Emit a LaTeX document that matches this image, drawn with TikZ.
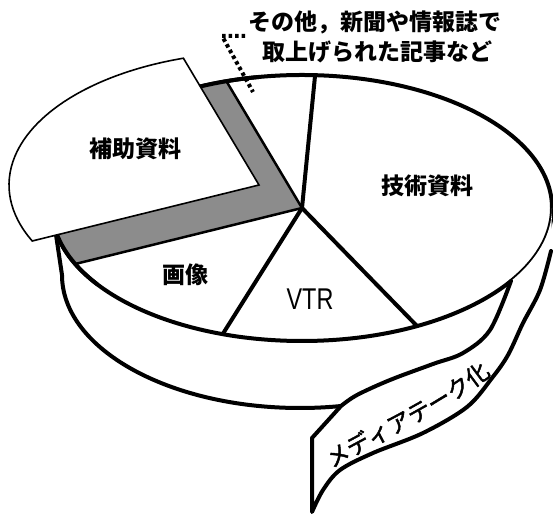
\documentclass[tikz,border=0pt]{standalone}
\usepackage{fontspec}
\setmainfont{Liberation Sans}
\newfontfamily\jp{Noto Sans CJK JP}
\newfontfamily\jpm{Noto Sans CJK JP}[FakeBold=2]
\usetikzlibrary{calc,decorations.text}
\begin{document}
\begin{tikzpicture}[x=1pt,y=1pt,
  edge/.style={line width=4pt, line join=round, line cap=round},
  thinedge/.style={line width=1.6pt, line join=miter},
  graybox/.style={fill=black!45},
  lab/.style={font=\jp\bfseries\fontsize{23}{23}\selectfont, inner sep=0pt},
  dotline/.style={line width=4pt, dash pattern=on 3.5pt off 3pt}]
\useasboundingbox (0,0) rectangle (553,513);
\coordinate (C) at (302,305);
\coordinate (B) at (300,238);
\coordinate (W) at (259,328);
% side wall
\path[fill=white] (52,305) -- (62,238) arc[start angle=180,end angle=360,x radius=238pt,y radius=133pt] -- (552,305) arc[start angle=0,end angle=-180,x radius=250pt,y radius=133pt] -- cycle;
\draw[edge] (52,305) -- (62,238) arc[start angle=180,end angle=360,x radius=238pt,y radius=133pt] -- (552,305);
% top face
\draw[edge, fill=white] (C) ellipse[x radius=250pt, y radius=133pt];
% hole (gray)
\coordinate (h1) at ($(C)+(107.6:250pt and 133pt)$);
\coordinate (h2) at ($(C)+(204.9:250pt and 133pt)$);
\fill[graybox] (C) -- (h1) arc[start angle=107.6,end angle=204.9,x radius=250pt,y radius=133pt] -- cycle;
\draw[line width=2.5pt, line join=round] (h1) -- (C) -- (h2);
\coordinate (h0) at ($(C)+(100:250pt and 133pt)$);
\draw[edge] (h0) arc[start angle=100,end angle=215,x radius=250pt,y radius=133pt];
% slice lines
\coordinate (s1) at ($(C)+(87:250pt and 133pt)$);
\coordinate (s2) at ($(C)+(297.4:250pt and 133pt)$);
\coordinate (s3) at ($(C)+(251.5:250pt and 133pt)$);
\draw[edge] (C) -- (s1);
\draw[edge] (C) -- (s2);
\draw[edge] (C) -- (s3);
% labels on pie
\node[lab] (gijutsu) at (427,327) {技術資料};
\node[lab] (gazou) at (185,238) {画像};
\node[font=\fontsize{30}{30}\selectfont, inner sep=0pt, xscale=0.78] (vtr) at (310,214) {VTR};
% pulled-out wedge
\coordinate (w1) at ($(W)+(107.6:250pt and 133pt)$);
\draw[thinedge, fill=white] (W) -- (w1) arc[start angle=107.6,end angle=204.9,x radius=250pt,y radius=133pt] -- cycle;
\node[lab] (hojo) at (135,364) {補助資料};
% ribbon
\coordinate (J) at ($(C)+(-33.3:250pt and 133pt)$);
\path[fill=white] plot[smooth,tension=0.55] coordinates {(J) (490,183) (463,160) (433,149) (390,133) (357,118) (341,107)} -- (312,75) -- plot[smooth,tension=0.55] coordinates {(312,1) (323,23) (340,43) (373,60) (423,80) (467,106) (492,135) (508,158) (523,190) (540,223) (551,262)} -- (552,305) arc[start angle=0,end angle=-33.3,x radius=250pt,y radius=133pt] -- cycle;
\draw[edge] plot[smooth,tension=0.55] coordinates {(J) (490,183) (463,160) (433,149) (390,133) (357,118) (341,107)} -- (312,75) -- plot[smooth,tension=0.55] coordinates {(312,1) (323,23) (340,43) (373,60) (423,80) (467,106) (492,135) (508,158) (523,190) (540,223) (551,262)};
\begin{scope}[shift={(315,44)}]
\path[decorate, decoration={text along path, text align=center, raise=-8.5pt,
  text={|\jpm\fontsize{23}{23}\selectfont|メディアテーク化}}]
  (0,0) .. controls (60,38) and (120,58) .. (183,111);
\end{scope}
% dotted pointer
\coordinate (d0) at (245,477);
\coordinate (d1) at (222,477);
\coordinate (d2) at (253,421);
\draw[dotline] (d0) -- (d1) -- (d2);
% caption
\node[lab] (t1) at (375,491) {その他，新聞や情報誌で};
\node[lab] (t2) at (377,461) {取上げられた記事など};
\end{tikzpicture}
\end{document}
